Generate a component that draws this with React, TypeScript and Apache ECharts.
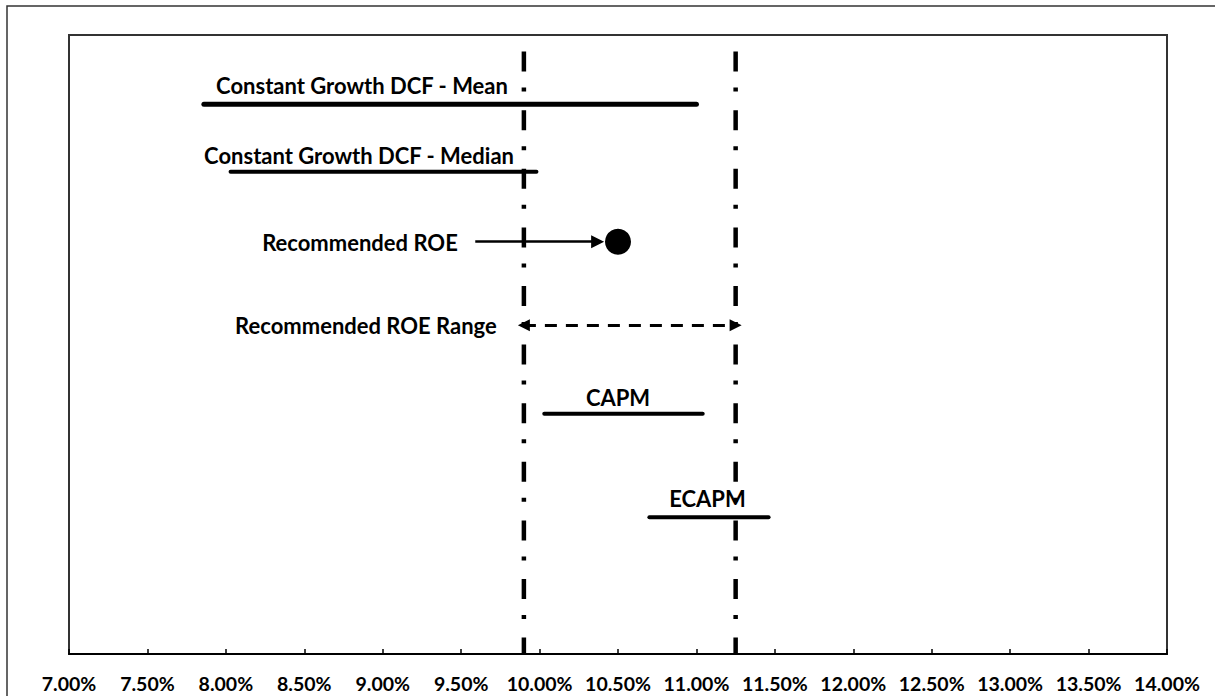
import React, { useEffect, useRef } from "react";
import * as echarts from "echarts";

// Horizontal ranges (x in %, row position on hidden 0-10 vertical scale)
const rangeNames = [
  "Constant Growth DCF - Mean",
  "Constant Growth DCF - Median",
  "CAPM",
  "ECAPM",
];
const rangeLow = [7.86, 8.03, 10.03, 10.7];
const rangeHigh = [11.0, 9.98, 11.04, 11.46];
const rangeRow = [8.88, 7.79, 3.88, 2.21];
const rangeWidth = [5, 4, 4, 4];

// Recommended ROE point
const recommendedROE = 10.5;
const recommendedRow = 6.66;
const roeArrowFrom = 9.59;
const roeArrowTo = 10.37;

// Recommended ROE range
const recRangeLow = 9.9;
const recRangeHigh = 11.25;
const recRangeRow = 5.31;

// Text annotations: [text, x centre (%), row]
const annotationText = [
  "Constant Growth DCF - Mean",
  "Constant Growth DCF - Median",
  "Recommended ROE",
  "Recommended ROE Range",
  "CAPM",
  "ECAPM",
];
const annotationX = [8.868, 8.849, 8.855, 8.893, 10.5, 11.07];
const annotationRow = [9.19, 8.06, 6.64, 5.31, 4.14, 2.52];

// Axis
const xMin = 7;
const xMax = 14;
const xStep = 0.5;
const rowMin = 0;
const rowMax = 10;

export default function App() {
  const ref = useRef<HTMLDivElement>(null);

  useEffect(() => {
    if (!ref.current) return;
    const chart = echarts.init(ref.current, null, { renderer: "svg" });
    const font = "Lato, 'Open Sans', sans-serif";

    const series: any[] = [];

    rangeNames.forEach((n, i) => {
      series.push({
        type: "line",
        name: n,
        data: [
          [rangeLow[i], rangeRow[i]],
          [rangeHigh[i], rangeRow[i]],
        ],
        symbol: "none",
        lineStyle: { color: "#000", width: rangeWidth[i], cap: "round", opacity: 1 },
        z: 3,
      });
    });

    // vertical dash-dot lines at recommended range bounds
    [recRangeLow, recRangeHigh].forEach((v, i) => {
      series.push({
        type: "line",
        name: "bound" + i,
        data: [
          [v, rowMax],
          [v, rowMin],
        ],
        symbol: "none",
        lineStyle: {
          color: "#000",
          width: 4.5,
          type: [20, 16, 4, 18.6],
          dashOffset: 41.6,
          cap: "butt",
          opacity: 1,
        },
        z: 4,
      });
    });

    // range arrow
    series.push({
      type: "lines",
      coordinateSystem: "cartesian2d",
      data: [
        {
          coords: [
            [recRangeLow, recRangeRow],
            [recRangeHigh, recRangeRow],
          ],
        },
      ],
      symbol: ["triangle", "triangle"],
      symbolSize: [12, 12],
      itemStyle: { color: "#000", opacity: 1 },
      lineStyle: { color: "#000", width: 3, type: [12, 9], opacity: 1 },
      z: 5,
    });

    // ROE arrow
    series.push({
      type: "lines",
      coordinateSystem: "cartesian2d",
      data: [
        {
          coords: [
            [roeArrowFrom, recommendedRow],
            [roeArrowTo, recommendedRow],
          ],
        },
      ],
      symbol: ["none", "triangle"],
      symbolSize: [0, 13],
      itemStyle: { color: "#000", opacity: 1 },
      lineStyle: { color: "#000", width: 2.5, type: "solid", opacity: 1 },
      z: 5,
    });

    // ROE point
    series.push({
      type: "scatter",
      data: [[recommendedROE, recommendedRow]],
      symbol: "circle",
      symbolSize: 26,
      itemStyle: { color: "#000", opacity: 1 },
      z: 6,
    });

    // annotations
    series.push({
      type: "scatter",
      data: annotationText.map((t, i) => ({
        value: [annotationX[i], annotationRow[i]],
        name: t,
      })),
      symbolSize: 0,
      silent: true,
      itemStyle: { opacity: 1 },
      label: {
        show: true,
        position: "inside",
        formatter: (p: any) => p.name,
        color: "#000",
        opacity: 1,
        fontFamily: font,
        fontWeight: "bold",
        fontSize: 22,
      },
      z: 7,
    });

    chart.setOption({
      animation: false,
      backgroundColor: "#fff",
      grid: {
        left: 69,
        top: 35,
        right: 48,
        bottom: 42,
        show: true,
        borderColor: "#333",
        borderWidth: 2,
        backgroundColor: "transparent",
      },
      xAxis: {
        type: "value",
        min: xMin,
        max: xMax,
        interval: xStep,
        splitLine: { show: false },
        axisLine: { show: true, lineStyle: { color: "#000", width: 2 } },
        axisTick: {
          show: true,
          inside: true,
          length: 5,
          lineStyle: { color: "#000", width: 1.5 },
        },
        axisLabel: {
          margin: 19,
          color: "#000",
          fontFamily: font,
          fontWeight: "bold",
          fontSize: 19.5,
          formatter: (v: number) => v.toFixed(2) + "%",
        },
      },
      yAxis: {
        type: "value",
        min: rowMin,
        max: rowMax,
        show: false,
        splitLine: { show: false },
      },
      graphic: [
        {
          type: "rect",
          shape: { x: 7, y: 6, width: 1400, height: 900 },
          style: { fill: "none", stroke: "#333", lineWidth: 1.5 },
          silent: true,
          z: -1,
        },
      ],
      series,
    });

    return () => chart.dispose();
  }, []);

  return (
    <div
      ref={ref}
      style={{
        position: "absolute",
        left: 0,
        top: 0,
        width: 1215,
        height: 696,
        background: "#fff",
      }}
    />
  );
}
